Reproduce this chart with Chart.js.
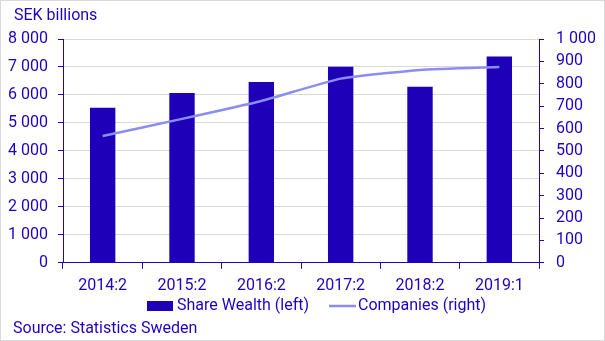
<!DOCTYPE html>
<html>
<head>
<meta charset="utf-8">
<script src="https://cdn.jsdelivr.net/npm/chart.js@4"></script>
<style>
  body { margin: 0; background: #fff; }
  #wrap { width: 605px; height: 341px; }
</style>
</head>
<body>
<div id="wrap"><canvas id="chart" width="605" height="341"></canvas></div>
<script>
const periods = ["2014:2", "2015:2", "2016:2", "2017:2", "2018:2", "2019:1"];
const shareWealth = [5540, 6070, 6460, 7010, 6290, 7370];
const companies = [567, 643, 723, 823, 862, 875];

const ink = "#2200c0";
const barColor = "#1e00b9";
const lineColor = "#8c8cf2";
const gridColor = "#d9d9d9";

Chart.defaults.font.family = "Roboto";
Chart.defaults.font.size = 16;
Chart.defaults.color = ink;

// thousands with a space, like "8 000"
function spaced(v) {
  return String(v).replace(/\B(?=(\d{3})+(?!\d))/g, " ");
}

// heading, legend row, source line and frame
const extras = {
  id: "extras",
  afterDraw(chart) {
    const ctx = chart.ctx;
    const ds = chart.data.datasets;
    ctx.save();
    ctx.fillStyle = ink;
    ctx.font = "16px Roboto";
    ctx.textBaseline = "middle";
    ctx.textAlign = "left";
    ctx.fillText("SEK billions", 14, 16);
    ctx.fillText("Source: Statistics Sweden", 13, 329);

    // legend
    const ly = 306;
    ctx.fillStyle = ds[0].backgroundColor;
    ctx.fillRect(147, ly - 5, 26, 10);
    ctx.fillStyle = ink;
    ctx.fillText(ds[0].label, 177, ly);
    ctx.strokeStyle = ds[1].borderColor;
    ctx.lineWidth = 2.5;
    ctx.beginPath();
    ctx.moveTo(329, ly);
    ctx.lineTo(356, ly);
    ctx.stroke();
    ctx.fillText(ds[1].label, 358, ly);

    ctx.strokeStyle = gridColor;
    ctx.lineWidth = 1;
    ctx.strokeRect(0.5, 0.5, chart.width - 1, chart.height - 1);
    ctx.restore();
  }
};

new Chart(document.getElementById("chart"), {
  data: {
    labels: periods,
    datasets: [
      {
        type: "bar",
        label: "Share Wealth (left)",
        data: shareWealth,
        backgroundColor: barColor,
        yAxisID: "y",
        barPercentage: 0.32,
        categoryPercentage: 1,
        order: 1
      },
      {
        type: "line",
        label: "Companies (right)",
        data: companies,
        borderColor: lineColor,
        backgroundColor: lineColor,
        borderWidth: 2.5,
        pointRadius: 0,
        tension: 0.15,
        yAxisID: "y1",
        order: 0
      }
    ]
  },
  options: {
    responsive: false,
    animation: false,
    layout: { padding: { top: 39, right: 10, bottom: 37, left: 0 } },
    plugins: {
      tooltip: { enabled: false },
      legend: { display: false }
    },
    scales: {
      x: {
        offset: true,
        grid: { offset: true, drawOnChartArea: false, tickLength: 6, tickColor: ink },
        border: { color: ink },
        ticks: { color: ink, padding: 8, maxRotation: 0 }
      },
      y: {
        position: "left",
        min: 0,
        max: 8000,
        afterFit(scale) { scale.width = 63; },
        grid: { color: gridColor, tickColor: ink, tickLength: 5 },
        border: { color: ink },
        ticks: { stepSize: 1000, autoSkip: false, padding: 10, color: ink, callback: v => spaced(v) }
      },
      y1: {
        position: "right",
        min: 0,
        max: 1000,
        afterFit(scale) { scale.width = 56; },
        grid: { drawOnChartArea: false, tickColor: ink, tickLength: 5 },
        border: { color: ink },
        ticks: { stepSize: 100, autoSkip: false, padding: 12, color: ink, callback: v => spaced(v) }
      }
    }
  },
  plugins: [extras]
});
</script>
</body>
</html>
